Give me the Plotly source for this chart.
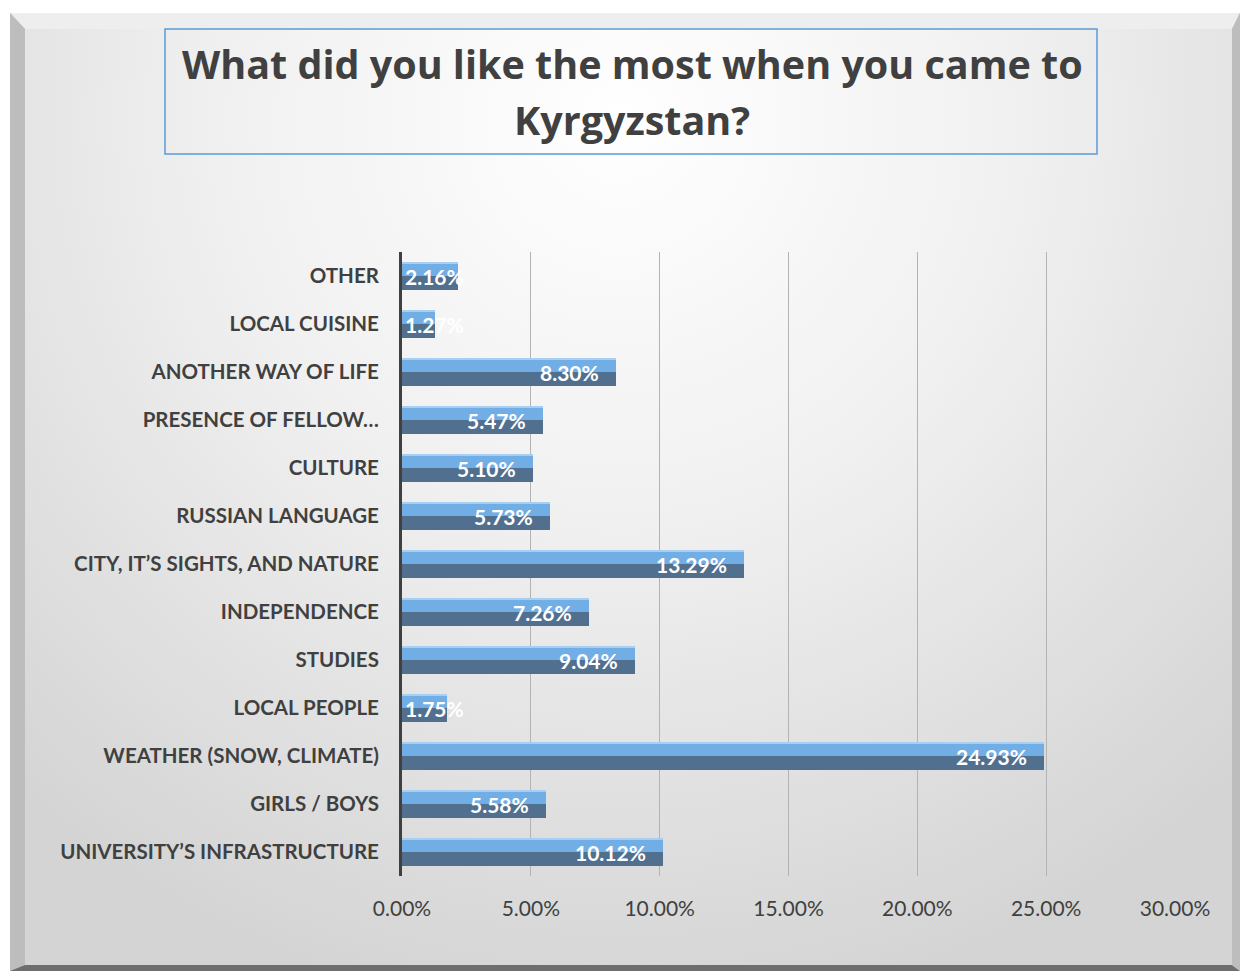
import base64
import plotly.graph_objects as go

categories = [
    "UNIVERSITY’S INFRASTRUCTURE",
    "GIRLS / BOYS",
    "WEATHER (SNOW, CLIMATE)",
    "LOCAL PEOPLE",
    "STUDIES",
    "INDEPENDENCE",
    "CITY, IT’S SIGHTS, AND NATURE",
    "RUSSIAN LANGUAGE",
    "CULTURE",
    "PRESENCE OF FELLOW…",
    "ANOTHER WAY OF LIFE",
    "LOCAL CUISINE",
    "OTHER",
]
values = [0.1012, 0.0558, 0.2493, 0.0175, 0.0904, 0.0726, 0.1329, 0.0573, 0.0510, 0.0547, 0.0830, 0.0127, 0.0216]
tick_vals = [0, 0.05, 0.10, 0.15, 0.20, 0.25, 0.30]
title_lines = ["What did you like the most when you came to", "Kyrgyzstan?"]

W, H = 1240, 971
L, R, T, B = 402, W - 1175, 252, H - 876
pw, ph = W - L - R, H - T - B
XMAX = 0.30

def px2paper_x(x):
    return (x - L) / pw

def px2paper_y(y):
    return (H - B - y) / ph

svg = f'''<svg xmlns="http://www.w3.org/2000/svg" width="{W}" height="{H}" viewBox="0 0 {W} {H}">
<defs>
<radialGradient id="g" cx="620" cy="120" r="900" gradientUnits="userSpaceOnUse">
<stop offset="0" stop-color="#ffffff"/>
<stop offset="0.45" stop-color="#f0f0f0"/>
<stop offset="1" stop-color="#d4d4d4"/>
</radialGradient>
</defs>
<rect x="0" y="0" width="{W}" height="{H}" fill="#ffffff"/>
<rect x="10" y="13" width="{W-10}" height="{H-13}" fill="#c9c9c9"/>
<polygon points="10,13 {W},13 {W-8},29 25,29" fill="#eeeeee"/>
<polygon points="10,13 25,29 25,{H-6} 10,{H}" fill="#bdbdbd"/>
<polygon points="10,{H} 25,{H-6} {W-8},{H-6} {W},{H}" fill="#6e6e6e"/>
<polygon points="{W},13 {W-8},29 {W-8},{H-6} {W},{H}" fill="#bdbdbd"/>
<rect x="25" y="29" width="{W-33}" height="{H-35}" fill="url(#g)"/>
</svg>'''
src = "data:image/svg+xml;base64," + base64.b64encode(svg.encode()).decode()

fig = go.Figure()
half = 0.295
fig.add_trace(go.Bar(y=categories, x=values, orientation="h", width=half, offset=-half,
                     marker=dict(color="#516f8e", line=dict(width=0)), hoverinfo="skip"))
fig.add_trace(go.Bar(y=categories, x=values, orientation="h", width=half, offset=0,
                     marker=dict(color="#72aee6", line=dict(width=0)), hoverinfo="skip"))
fig.add_trace(go.Bar(y=categories, x=values, orientation="h", width=0.035, offset=half - 0.035,
                     marker=dict(color="#a9cff0", line=dict(width=0)), hoverinfo="skip"))

annotations = []
for c, v in zip(categories, values):
    bar_px = v / XMAX * pw
    fits = bar_px > 80
    annotations.append(dict(x=v if fits else 0, y=c, xref="x", yref="y", text=f"{v*100:.2f}%",
                            xanchor="right" if fits else "left", yanchor="middle",
                            xshift=-15 if fits else 1, showarrow=False,
                            font=dict(family="Lato, Open Sans, sans-serif", size=21, color="white", weight="bold")))
for line, ypx in zip(title_lines, [64, 120]):
    annotations.append(dict(x=px2paper_x(632), y=px2paper_y(ypx), xref="paper", yref="paper",
                            text=line, showarrow=False, xanchor="center", yanchor="middle",
                            font=dict(family="Open Sans, sans-serif", size=39.5, color="#404040", weight="bold")))

fig.update_layout(
    width=W, height=H,
    margin=dict(l=L, r=R, t=T, b=B),
    paper_bgcolor="rgba(0,0,0,0)", plot_bgcolor="rgba(0,0,0,0)",
    barmode="overlay", bargap=0, showlegend=False,
    annotations=annotations,
    images=[dict(source=src, xref="paper", yref="paper",
                 x=px2paper_x(0), y=px2paper_y(0), sizex=W / pw, sizey=H / ph,
                 xanchor="left", yanchor="top", sizing="stretch", layer="below")],
    shapes=[dict(type="rect", xref="paper", yref="paper",
                 x0=px2paper_x(165), x1=px2paper_x(1097), y0=px2paper_y(154), y1=px2paper_y(29),
                 line=dict(color="#5b9bd5", width=1.5), fillcolor="rgba(0,0,0,0)", layer="below")],
    font=dict(family="Lato, Open Sans, sans-serif", color="#404040"),
    xaxis=dict(range=[0, XMAX], tickvals=tick_vals, tickformat=".2%", showgrid=True,
               gridcolor="#b3b3b3", gridwidth=1, zeroline=False, showline=False,
               tickfont=dict(size=21, color="#404040"), ticklabelstandoff=18, fixedrange=True),
    yaxis=dict(categoryorder="array", categoryarray=categories, range=[-0.5, 12.5],
               showline=True, linewidth=3, linecolor="#404040", showgrid=False, zeroline=False,
               tickfont=dict(size=20.5, color="#404040", weight="bold"), ticklabelstandoff=16, fixedrange=True),
)

fig.write_html("out.html", config={"displayModeBar": False},
               post_script="document.body.style.margin='0';document.body.style.overflow='hidden';")
